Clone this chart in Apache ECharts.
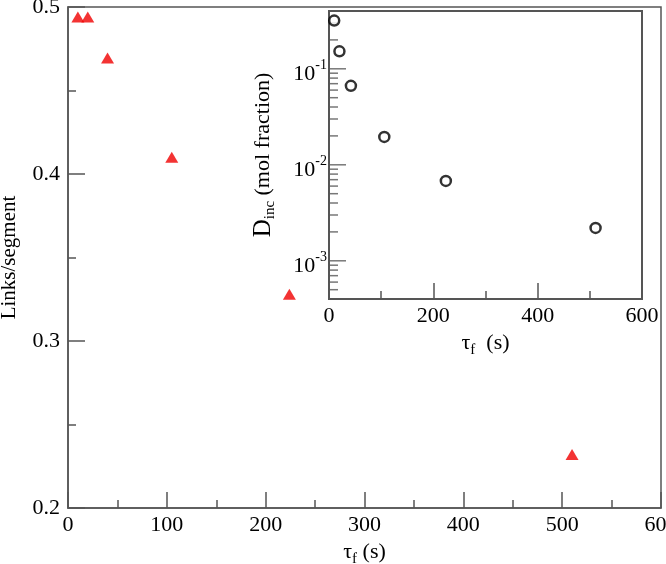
<!DOCTYPE html>
<html>
<head>
<meta charset="utf-8">
<script src="https://cdn.jsdelivr.net/npm/echarts@6/dist/echarts.min.js"></script>
<style>html,body{margin:0;padding:0;background:#fff}#c{width:666px;height:564px}</style>
</head>
<body>
<div id="c"></div>
<script>
// Main panel: links per segment vs tau_f
var tauMain = [10, 20, 40, 105, 224, 510];
var linksPerSegment = [0.494, 0.494, 0.4695, 0.410, 0.328, 0.232];
// Inset: D_inc vs tau_f (log scale)
var tauInset = [10, 20, 42, 106, 224, 511];
var dInc = [0.318, 0.152, 0.0665, 0.0195, 0.0068, 0.0022];
// Tick values
var insetMajorTicks = [0.001, 0.01, 0.1];
var insetMinorTicks = [0.0005, 0.0006, 0.0007, 0.0008, 0.0009,
  0.002, 0.003, 0.004, 0.005, 0.006, 0.007, 0.008, 0.009,
  0.02, 0.03, 0.04, 0.05, 0.06, 0.07, 0.08, 0.09, 0.2, 0.3];

var FONT = 'Liberation Serif';
var AX = '#555';
var chart = echarts.init(document.getElementById('c'), null, {renderer: 'canvas'});

function pairs(xs, ys) { return xs.map(function (x, i) { return [x, ys[i]]; }); }
function onLeft(vals) { return vals.map(function (v) { return [0, v]; }); }

chart.setOption({
  animation: false,
  backgroundColor: '#fff',
  textStyle: {fontFamily: FONT, color: '#000'},
  grid: [
    {left: 68, top: 7, width: 593, height: 501, containLabel: false, outerBoundsMode: 'none',
      show: true, borderColor: AX, borderWidth: 1.5, backgroundColor: 'transparent'},
    {left: 329, top: 11, width: 313, height: 288, containLabel: false, outerBoundsMode: 'none',
      show: true, borderColor: AX, borderWidth: 2, backgroundColor: '#fff', z: 3}
  ],
  xAxis: [
    {
      gridIndex: 0, type: 'value', min: 0, max: 600, interval: 100,
      name: '{t|τ}{f|f}{t| (s)}', nameLocation: 'middle', nameGap: 26,
      nameTextStyle: {rich: {
        t: {fontFamily: FONT, fontSize: 22, lineHeight: 30, color: '#000'},
        f: {fontFamily: FONT, fontSize: 15, lineHeight: 10, verticalAlign: 'bottom', color: '#000'}
      }},
      axisLine: {show: true, lineStyle: {color: AX, width: 1.5}},
      axisTick: {show: true, inside: true, length: 16, lineStyle: {color: AX, width: 1.5}},
      minorTick: {show: true, splitNumber: 2, length: 8, lineStyle: {color: AX, width: 1.5}},
      axisLabel: {fontFamily: FONT, fontSize: 22, color: '#000', margin: 6},
      splitLine: {show: false}
    },
    {
      gridIndex: 1, type: 'value', min: 0, max: 600, interval: 200,
      name: '{t|τ}{f|f}{t|  (s)}', nameLocation: 'middle', nameGap: 23,
      nameTextStyle: {rich: {
        t: {fontFamily: FONT, fontSize: 22, lineHeight: 30, color: '#000'},
        f: {fontFamily: FONT, fontSize: 15, lineHeight: 10, verticalAlign: 'bottom', color: '#000'}
      }},
      axisLine: {show: true, lineStyle: {color: AX, width: 2}},
      axisTick: {show: true, inside: true, length: 16, lineStyle: {color: AX, width: 1.5}},
      minorTick: {show: true, splitNumber: 2, length: 8, lineStyle: {color: AX, width: 1.5}},
      axisLabel: {fontFamily: FONT, fontSize: 22, color: '#000', margin: 6},
      splitLine: {show: false}, z: 4
    }
  ],
  yAxis: [
    {
      gridIndex: 0, type: 'value', min: 0.2, max: 0.5, interval: 0.1,
      name: 'Links/segment', nameLocation: 'middle', nameGap: 40,
      nameTextStyle: {fontFamily: FONT, fontSize: 21, lineHeight: 24, color: '#000'},
      axisLine: {show: true, lineStyle: {color: AX, width: 1.5}},
      axisTick: {show: true, inside: true, length: 17, lineStyle: {color: AX, width: 1.5}},
      minorTick: {show: true, splitNumber: 2, length: 8, lineStyle: {color: AX, width: 1.5}},
      axisLabel: {fontFamily: FONT, fontSize: 22, color: '#000', margin: 8,
        formatter: function (v) { return (Math.round(v * 10) / 10).toFixed(1); }},
      splitLine: {show: false}
    },
    {
      gridIndex: 1, type: 'log', logBase: 10, min: 0.0004, max: 0.4, position: 'left',
      name: '{d|D}{i|inc}{t| (mol fraction)}', nameLocation: 'middle', nameGap: 51,
      nameTextStyle: {rich: {
        d: {fontFamily: FONT, fontSize: 25, lineHeight: 30, color: '#000'},
        t: {fontFamily: FONT, fontSize: 22, lineHeight: 30, color: '#000'},
        i: {fontFamily: FONT, fontSize: 15, lineHeight: 10, verticalAlign: 'bottom', color: '#000'}
      }},
      axisLine: {show: true, lineStyle: {color: AX, width: 2}},
      axisTick: {show: false},
      axisLabel: {customValues: insetMajorTicks, margin: 2, padding: [10, 0, 0, 0],
        formatter: function (v) { return '{b|10}{s|' + Math.round(Math.log10(v)) + '}'; },
        rich: {
          b: {fontFamily: FONT, fontSize: 22, lineHeight: 30, color: '#000'},
          s: {fontFamily: FONT, fontSize: 14, lineHeight: 14, verticalAlign: 'top', color: '#000'}
        }},
      splitLine: {show: false}, z: 4
    }
  ],
  series: [
    {
      type: 'scatter', xAxisIndex: 0, yAxisIndex: 0,
      data: pairs(tauMain, linksPerSegment),
      symbol: 'triangle', symbolSize: [13, 11],
      itemStyle: {color: '#f00000'}
    },
    {
      name: 'insetMajorTicks', type: 'scatter', xAxisIndex: 1, yAxisIndex: 1,
      data: onLeft(insetMajorTicks), clip: false, silent: true, z: 4,
      symbol: 'rect', symbolSize: [17, 1.5], symbolOffset: [8.5, 0],
      itemStyle: {color: AX}
    },
    {
      name: 'insetMinorTicks', type: 'scatter', xAxisIndex: 1, yAxisIndex: 1,
      data: onLeft(insetMinorTicks), clip: false, silent: true, z: 4,
      symbol: 'rect', symbolSize: [9, 1.5], symbolOffset: [4.5, 0],
      itemStyle: {color: AX}
    },
    {
      type: 'scatter', xAxisIndex: 1, yAxisIndex: 1,
      data: pairs(tauInset, dInc),
      symbol: 'circle', symbolSize: 10,
      itemStyle: {color: '#fff', borderColor: '#000', borderWidth: 2.5},
      z: 5
    }
  ]
});
</script>
</body>
</html>
